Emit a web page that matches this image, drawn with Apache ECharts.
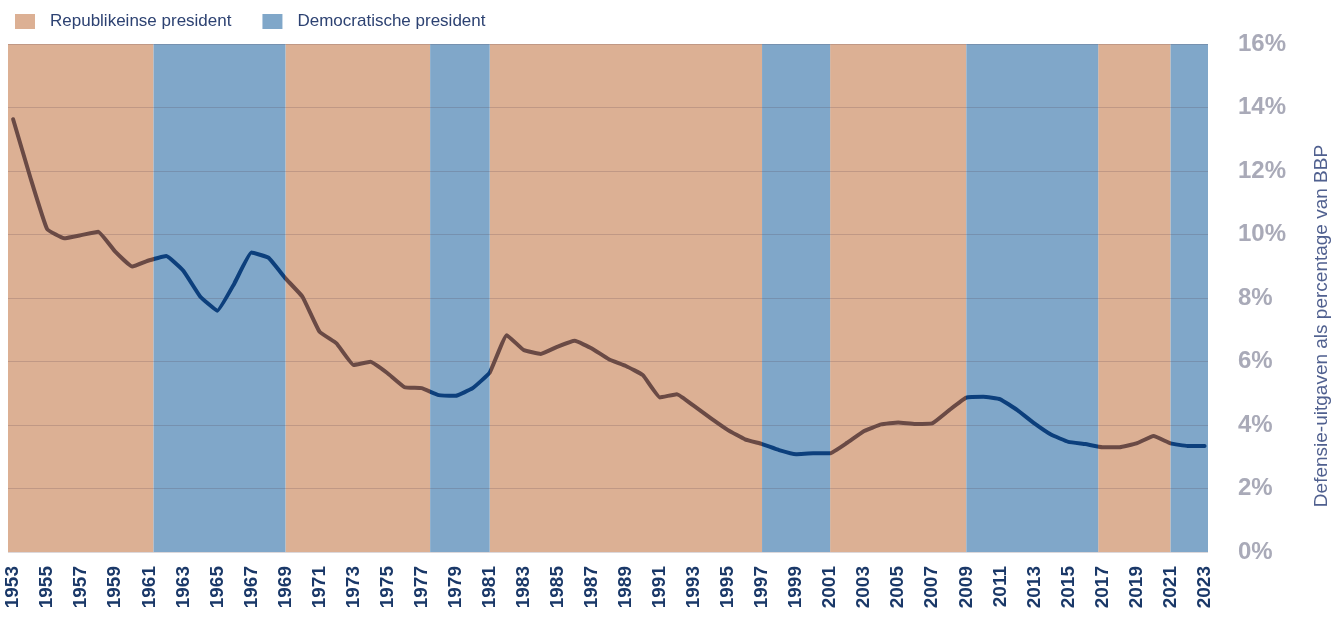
<!DOCTYPE html>
<html>
<head>
<meta charset="utf-8">
<script src="https://cdn.jsdelivr.net/npm/echarts@6/dist/echarts.min.js"></script>
<style>
  html, body { margin: 0; padding: 0; background: #ffffff; }
  #chart { width: 1341px; height: 619px; }
</style>
</head>
<body>
<div id="chart"></div>
<script>
// US defence spending as a share of GDP, 1953–2023
const years = [
  1953, 1954, 1955, 1956, 1957, 1958, 1959, 1960, 1961, 1962,
  1963, 1964, 1965, 1966, 1967, 1968, 1969, 1970, 1971, 1972,
  1973, 1974, 1975, 1976, 1977, 1978, 1979, 1980, 1981, 1982,
  1983, 1984, 1985, 1986, 1987, 1988, 1989, 1990, 1991, 1992,
  1993, 1994, 1995, 1996, 1997, 1998, 1999, 2000, 2001, 2002,
  2003, 2004, 2005, 2006, 2007, 2008, 2009, 2010, 2011, 2012,
  2013, 2014, 2015, 2016, 2017, 2018, 2019, 2020, 2021, 2022,
  2023
];

const defenceShare = [
  13.63, 11.82, 10.17, 9.88, 9.98, 10.09, 9.46, 8.99, 9.19, 9.32,
  8.86, 8.04, 7.60, 8.46, 9.43, 9.27, 8.62, 8.04, 6.94, 6.57,
  5.89, 5.99, 5.63, 5.19, 5.16, 4.94, 4.92, 5.16, 5.65, 6.83,
  6.36, 6.24, 6.47, 6.65, 6.41, 6.07, 5.86, 5.57, 4.87, 4.97,
  4.60, 4.21, 3.84, 3.55, 3.40, 3.21, 3.08, 3.11, 3.11, 3.44,
  3.81, 4.02, 4.08, 4.03, 4.05, 4.47, 4.86, 4.89, 4.81, 4.47,
  4.05, 3.69, 3.47, 3.40, 3.30, 3.30, 3.42, 3.65, 3.42, 3.34,
  3.34
];

// Presidential terms (start, end) by party
const republicanTerms = [
  [1952.7, 1961.25], [1969, 1977.5], [1981, 1997], [2001, 2009], [2016.75, 2021]
];
const democraticTerms = [
  [1961.25, 1969], [1977.5, 1981], [1997, 2001], [2009, 2016.75], [2021, 2023.2]
];

const xTickLabels = [
  1953, 1955, 1957, 1959, 1961, 1963, 1965, 1967, 1969, 1971,
  1973, 1975, 1977, 1979, 1981, 1983, 1985, 1987, 1989, 1991,
  1993, 1995, 1997, 1999, 2001, 2003, 2005, 2007, 2009, 2011,
  2013, 2015, 2017, 2019, 2021, 2023
];

const REP_NAME = 'Republikeinse president';
const DEM_NAME = 'Democratische president';
const REP_FILL = '#dcb094';
const DEM_FILL = '#80a7c9';
const REP_LINE = '#6a4a45';
const DEM_LINE = '#0c3f7c';

const toAreas = terms => terms.map(t => [{ xAxis: t[0] }, { xAxis: t[1] }]);

const pieces = []
  .concat(republicanTerms.map(t => ({ gte: t[0], lt: t[1], color: REP_LINE })))
  .concat(democraticTerms.map(t => ({ gte: t[0], lt: t[1], color: DEM_LINE })));

const chart = echarts.init(document.getElementById('chart'));

chart.setOption({
  animation: false,
  backgroundColor: '#ffffff',
  textStyle: { fontFamily: 'Liberation Sans, Arial, sans-serif' },
  legend: {
    left: 10,
    top: 8,
    icon: 'rect',
    itemWidth: 20,
    itemHeight: 15,
    itemGap: 31,
    data: [REP_NAME, DEM_NAME],
    textStyle: {
      color: '#2d4272',
      fontSize: 17,
      padding: [0, 0, 0, 10]
    }
  },
  grid: { left: 8, right: 133, top: 44, bottom: 67 },
  xAxis: {
    type: 'value',
    min: 1952.7,
    max: 2023.2,
    splitLine: { show: false },
    axisLine: { show: false },
    axisTick: { show: false },
    axisLabel: {
      customValues: xTickLabels,
      rotate: 90,
      margin: 14,
      color: '#1a3868',
      fontWeight: 'bold',
      fontSize: 19,
      formatter: v => String(v)
    }
  },
  yAxis: {
    type: 'value',
    position: 'right',
    min: 0,
    max: 16,
    interval: 2,
    z: 3,
    axisLine: { show: false },
    axisTick: { show: false },
    splitLine: { lineStyle: { color: 'rgba(80,60,75,0.2)', width: 1 } },
    axisLabel: {
      margin: 30,
      color: '#a9aab8',
      fontWeight: 'bold',
      fontSize: 24,
      formatter: '{value}%'
    },
    name: 'Defensie-uitgaven als percentage van BBP',
    nameLocation: 'middle',
    nameRotate: 90,
    nameGap: 104,
    nameTextStyle: {
      color: '#50608f',
      fontSize: 19,
      padding: [0, 56, 0, 0]
    }
  },
  visualMap: {
    type: 'piecewise',
    show: false,
    dimension: 0,
    seriesIndex: 2,
    pieces: pieces
  },
  series: [
    {
      name: REP_NAME,
      type: 'line',
      data: [],
      z: 1,
      itemStyle: { color: REP_FILL },
      lineStyle: { color: REP_FILL },
      markArea: {
        silent: true,
        itemStyle: { color: REP_FILL, opacity: 1 },
        data: toAreas(republicanTerms)
      }
    },
    {
      name: DEM_NAME,
      type: 'line',
      data: [],
      z: 1,
      itemStyle: { color: DEM_FILL },
      lineStyle: { color: DEM_FILL },
      markArea: {
        silent: true,
        itemStyle: { color: DEM_FILL, opacity: 1 },
        data: toAreas(democraticTerms)
      }
    },
    {
      name: 'Defensie-uitgaven',
      type: 'line',
      z: 5,
      data: years.map((y, i) => [y, defenceShare[i]]),
      showSymbol: false,
      smooth: 0.1,
      lineStyle: { width: 4, cap: 'round', join: 'round' }
    }
  ]
});
</script>
</body>
</html>
